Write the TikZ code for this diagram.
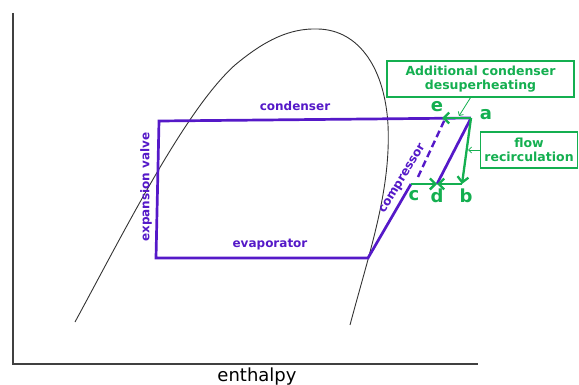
\documentclass[tikz,border=0pt]{standalone}
\usepackage{fontspec}
\setmainfont{DejaVu Sans}
\usetikzlibrary{arrows.meta}
\definecolor{cyc}{RGB}{85,25,200}
\definecolor{grn}{RGB}{20,175,80}
\begin{document}
\begin{tikzpicture}[x=1pt,y=-1pt,
  cycline/.style={draw=cyc,line width=2.7pt,line join=miter},
  garr/.style={draw=grn,line width=2.3pt,-{Straight Barb[length=5.5pt,width=11pt]}},
  ptr/.style={draw=grn,line width=0.8pt,-{Straight Barb[length=3pt,width=6pt]}},
  lbl/.style={text=cyc,font=\fontsize{12}{14}\selectfont\bfseries,inner sep=0pt},
  ltr/.style={text=grn,font=\fontsize{18}{20}\selectfont\bfseries,inner sep=0pt},
  gbox/.style={draw=grn,line width=1.3pt,text=grn,font=\fontsize{12.5}{14.5}\selectfont\bfseries,align=center,inner sep=0pt}]
\useasboundingbox (0,0) rectangle (579,385);
% axes
\coordinate (ytop) at (13,13);
\coordinate (org) at (13,364);
\coordinate (xend) at (478,364);
\draw[line width=1.3pt,black!75] (ytop) -- (org) -- (xend);
\node[font=\fontsize{18}{20}\selectfont,inner sep=0pt] (xl) at (257,377) {enthalpy};
% saturation dome
\draw[line width=0.9pt,black!80] (75,322) .. controls (125,230) and (185,110) .. (235,65)
  .. controls (265,40) and (290,28) .. (318,29)
  .. controls (360,30) and (385,70) .. (388,125)
  .. controls (391,190) and (370,250) .. (350,325);
% cycle points
\coordinate (TL) at (159,121);
\coordinate (BL) at (156,258);
\coordinate (BR) at (368,258);
\coordinate (C) at (411,184);
\coordinate (D) at (437,184);
\coordinate (B) at (462,184);
\coordinate (A) at (471,118);
\coordinate (E) at (442,118);
\coordinate (Cd) at (418,177);
\coordinate (Ed) at (445,119);
\draw[cycline] (A) -- (TL) -- (BL) -- (BR) -- (C);
\draw[cycline] (D) -- (A);
\draw[draw=cyc,line width=2.4pt,dash pattern=on 7pt off 4pt] (Cd) -- (Ed);
% green arrows
\draw[garr] (A) -- (E);
\draw[garr] (A) -- (B);
\draw[garr] (C) -- (D);
\draw[garr] (B) -- (D);
% labels
\node[lbl] (cond) at (295,106) {condenser};
\node[lbl] (evap) at (270,245) {evaporator};
\node[lbl,rotate=90] (exv) at (146,187) {expansion valve};
\node[lbl,rotate=59] (comp) at (403,179) {compressor};
\node[ltr] (la) at (486,115) {a};
\node[ltr] (le) at (437,107) {e};
\node[ltr] (lc) at (414,196) {c};
\node[ltr] (ld) at (437,196) {d};
\node[ltr] (lb) at (466,196) {b};
% boxes
\node[gbox,minimum width=187pt,minimum height=36pt] (box1) at (480.5,79) {Additional condenser\\desuperheating};
\node[gbox,minimum width=97pt,minimum height=36pt] (box2) at (529,150) {flow\\recirculation};
\coordinate (p1) at (459,116);
\coordinate (p2) at (468,150);
\draw[ptr] ([xshift=-10pt]box1.south) -- (p1);
\draw[ptr] (box2.west) -- (p2);
\end{tikzpicture}
\end{document}
